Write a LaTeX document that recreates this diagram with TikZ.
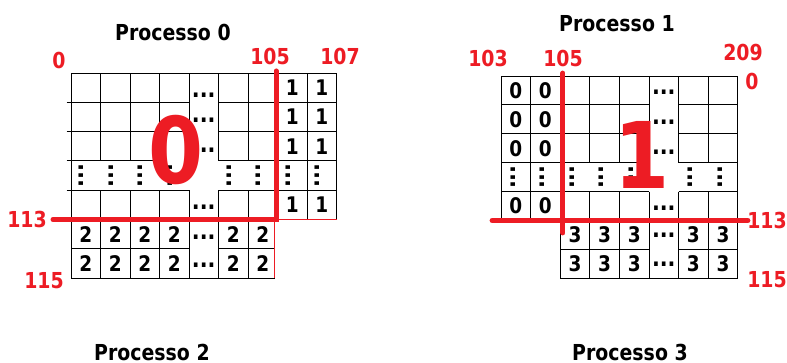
\documentclass[tikz,border=0pt]{standalone}
\usepackage{fontspec}
\usetikzlibrary{positioning}
\newfontfamily\tahoma[FakeStretch=0.86]{DejaVu Sans}
\definecolor{paintred}{HTML}{ED1C24}
\definecolor{ink}{HTML}{000000}
\tikzset{
  grd/.style ={draw=ink, line width=1pt},
  edg/.style ={draw=paintred, line width=.9pt},
  cut/.style ={draw=paintred, line width=5pt, line cap=round},
  ttl/.style ={font=\tahoma\bfseries\fontsize{22}{22}\selectfont, inner sep=0pt},
  idx/.style ={font=\tahoma\bfseries\fontsize{22}{22}\selectfont, text=paintred, inner sep=0pt},
  cel/.style ={font=\tahoma\bfseries\fontsize{21.5}{21.5}\selectfont, inner sep=0pt},
  hdt/.style ={font=\tahoma\bfseries\fontsize{24}{24}\selectfont, inner sep=0pt},
  vdt/.style ={hdt, rotate=90},
  big/.style ={font=\tahoma\bfseries\fontsize{92}{92}\selectfont, text=paintred, inner sep=0pt},
}

\begin{document}
\begin{tikzpicture}[x=1pt,y=-1pt]
    \useasboundingbox[fill=white] (0,0) rectangle (787,362);

    % Processo 0 / 2
    \begin{scope}[shift={(71,73)}, x=29.5pt, y=-29.3pt]
      \draw[grd] (0,0) -- (9,0) -- (9,5);
      \draw[grd] (0,0) -- (0,7) -- (6.9,7);
      \foreach \r/\e in {1/4,2/4,3/3,4/4}
        \draw[grd] (-0.15,\r) -- (\e,\r) (5,\r) -- (9,\r);
      \draw[grd] (0,5) -- (7,5);
      \draw[grd] (0,6) -- (4,6) (5,6) -- (6.9,6);
      \foreach \r in {0,1,2,4}
        \foreach \c in {1,...,8}
          \draw[grd] (\c,\r) -- (\c,\r+1);
      \foreach \c in {7,8}
        \draw[grd] (\c,3) -- (\c,4);
      \foreach \r in {5,6}
        \foreach \c in {1,...,6}
          \draw[grd] (\c,\r) -- (\c,\r+1);
      \draw[edg] (7,5) -- (9,5) (6.9,5) -- (6.9,7);

      \foreach \c in {7,8}
        \foreach \r in {0,1,2,4}
          \node[cel] (one-\c-\r) at (\c+.5,\r+.5) {1};
      \foreach \c in {0,1,2,3,5,6}
        \foreach \r in {5,6}
          \node[cel] (two-\c-\r) at (\c+.5,\r+.5) {2};
      \foreach \c in {0,1,2,3,5,6,7,8}
        \node[vdt] (vl-\c) at (\c+.36,3.5) {...};
      \foreach \r/\y in {0/.75,1/.6,2/.62,4/.58,5/.6,6/.56}
        \node[hdt] (hl-\r) at (4.5,\r+\y) {...};
      \node[big] (bigzero) at (3.56,2.63) {0};

      \draw[cut] (-0.61,5) -- (6.95,5) -- (6.95,-0.07);
    \end{scope}

    % Processo 1 / 3
    \begin{scope}[shift={(501,76)}, x=29.6pt, y=-28.9pt]
      \draw[grd] (0,0) -- (8,0) -- (8,7) -- (2,7) -- (2,5);
      \draw[grd] (0,0) -- (0,5) -- (8,5);
      \foreach \r in {1,...,4}
        \draw[grd] (0,\r) -- (5,\r) (6,\r) -- (8,\r);
      \draw[grd] (2,6) -- (5,6) (6,6) -- (8,6);
      \foreach \r in {0,1,2,4}
        \foreach \c in {1,...,7}
          \draw[grd] (\c,\r) -- (\c,\r+1);
      \draw[grd] (1,3) -- (1,4);
      \foreach \r in {5,6}
        \foreach \c in {3,...,7}
          \draw[grd] (\c,\r) -- (\c,\r+1);

      \foreach \c in {0,1}
        \foreach \r in {0,1,2,4}
          \node[cel] (zero-\c-\r) at (\c+.5,\r+.5) {0};
      \foreach \c in {2,3,4,6,7}
        \foreach \r in {5,6}
          \node[cel] (three-\c-\r) at (\c+.5,\r+.5) {3};
      \foreach \c in {0,1,2,3,4,6,7}
        \node[vdt] (vr-\c) at (\c+.4,3.5) {...};
      \foreach \r/\y in {0/.55,1/.6,2/.63,4/.57,5/.5,6/.5}
        \node[hdt] (hr-\r) at (5.5,\r+\y) {...};
      \node[big] (bigone) at (4.76,2.73) {1};

      \draw[cut] (-0.3,5) -- (8.34,5);
      \draw[cut] (2.09,-0.1) -- (2.09,5.43);
    \end{scope}

    % titoli
    \node[ttl] (t0) at (173,32) {Processo 0};
    \node[ttl] (t1) at (617,24) {Processo 1};
    \node[ttl] (t2) at (152,352) {Processo 2};
    \node[ttl] (t3) at (630,352) {Processo 3};

    % indici
    \node[idx] (l0)   at (59,60)  {0};
    \node[idx] (l105) at (270,56) {105};
    \node[idx] (l107) at (340,56) {107};
    \node[idx] (l113) at (27,219) {113};
    \node[idx] (l115) at (44,281) {115};
    \node[idx] (r103) at (488,58) {103};
    \node[idx] (r105) at (563,58) {105};
    \node[idx] (r209) at (743,52) {209};
    \node[idx] (r0)   at (752,81) {0};
    \node[idx] (r113) at (767,220) {113};
    \node[idx] (r115) at (767,280) {115};
  \end{tikzpicture}
\end{document}
